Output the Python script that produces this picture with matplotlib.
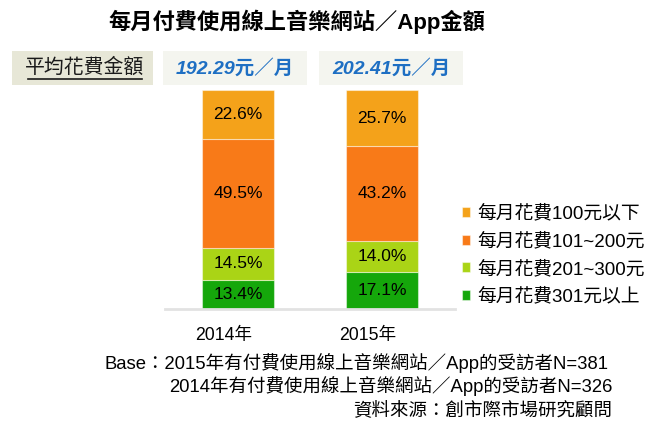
import matplotlib
matplotlib.use("Agg")
import matplotlib.pyplot as plt
from matplotlib.patches import Rectangle
import matplotlib.transforms as mtransforms

plt.rcParams['font.family'] = ['Liberation Sans', 'Noto Sans CJK TC', 'DejaVu Sans']

years = ['2014年', '2015年']
categories = ['每月花費301元以上', '每月花費201~300元', '每月花費101~200元', '每月花費100元以下']
values = {
    '每月花費301元以上': [13.4, 17.1],
    '每月花費201~300元': [14.5, 14.0],
    '每月花費101~200元': [49.5, 43.2],
    '每月花費100元以下': [22.6, 25.7],
}
colors = ['#15A70B', '#AAD416', '#F87A18', '#F4A21A']
avg_spend = ['192.29元／月', '202.41元／月']
title = '每月付費使用線上音樂網站／App金額'
notes = ['Base：2015年有付費使用線上音樂網站／App的受訪者N=381',
         '2014年有付費使用線上音樂網站／App的受訪者N=326',
         '資料來源：創市際市場研究顧問']

W, H = 660, 432
fig = plt.figure(figsize=(W / 100, H / 100), dpi=100)

# overlay axes in pixel coordinates
bg = fig.add_axes([0, 0, 1, 1])
bg.set_xlim(0, W)
bg.set_ylim(H, 0)
bg.axis('off')

bg.text(297, 22, title, ha='center', va='center', fontsize=16, fontweight='bold')

# header boxes
bg.add_patch(Rectangle((12, 51), 141, 34, facecolor='#E7E7D7', edgecolor='none'))
bg.text(85, 67, '平均花費金額', ha='center', va='center', fontsize=14.3, color='#1A1A1A')
bg.plot([28, 142], [79, 79], color='#1A1A1A', lw=1.2)
box_x = [163, 319]
for bx, s in zip(box_x, avg_spend):
    bg.add_patch(Rectangle((bx, 51), 144, 34, facecolor='#F4F5EF', edgecolor='none'))
    bg.text(bx + 72, 68, s, ha='center', va='center', fontsize=14,
            fontweight='bold', fontstyle='italic', color='#1E6FC3')

# footnotes
bg.text(105, 363, notes[0], ha='left', va='center', fontsize=13.3)
bg.text(612, 386, notes[1], ha='right', va='center', fontsize=13.3)
bg.text(612, 410, notes[2], ha='right', va='center', fontsize=13.3)

# bar axes
ax = fig.add_axes([165 / W, 1 - 309 / H, 290 / W, 219 / H])
x = [0, 1]
bottom = [0, 0]
handles = []
for cat, col in zip(categories, colors):
    vals = values[cat]
    bars = ax.bar(x, vals, width=0.5, bottom=bottom, color=col,
                  edgecolor=(1, 1, 1, 0.45), linewidth=0.8, label=cat)
    handles.append(bars)
    for xi, v, b in zip(x, vals, bottom):
        ax.text(xi, b + v / 2, f'{v:.1f}%', ha='center', va='center', fontsize=12.5)
    bottom = [b + v for b, v in zip(bottom, vals)]

ax.set_xlim(-0.507, 1.507)
ax.set_ylim(0, 100)
for sp in ['top', 'right', 'left']:
    ax.spines[sp].set_visible(False)
ax.spines['bottom'].set_color('#E2E2E2')
ax.spines['bottom'].set_linewidth(2)
ax.set_yticks([])
ax.set_xticks(x)
ax.set_xticklabels(years, fontsize=12.7)
ax.tick_params(axis='x', length=0, pad=13)
offset = mtransforms.ScaledTranslation(-14 / 100, 0, fig.dpi_scale_trans)
for lbl in ax.get_xticklabels():
    lbl.set_transform(lbl.get_transform() + offset)

leg = fig.legend(handles[::-1], categories[::-1], loc='upper left',
                 bbox_to_anchor=(462 / W, 1 - 205 / H), frameon=False,
                 fontsize=13.5, handlelength=0.45, handleheight=0.45,
                 handletextpad=0.35, labelspacing=0.53, borderpad=0, borderaxespad=0)

fig.savefig('out.png', dpi=100)
